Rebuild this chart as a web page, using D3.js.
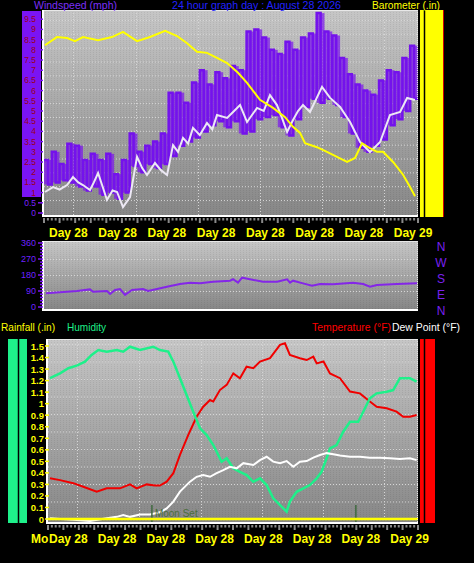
<!DOCTYPE html>
<html><head><meta charset="utf-8">
<script src="https://cdn.jsdelivr.net/npm/d3@7"></script>
<style>
body{margin:0;background:#000;}
svg{display:block;font-family:"Liberation Sans",Arial,sans-serif;}
</style>
</head><body>
<svg id="c" width="474" height="563"></svg>
<script>
// ---------------- DATA ----------------
// Top panel: windspeed (mph) – gust range per half hour bin
const gustHi = [2.6,3.0,2.4,3.4,3.3,2.6,2.9,2.6,2.9,1.9, 2.6,3.9,3.0,3.3,3.5,3.9,5.9,5.9,5.4,6.4,
                7.0,6.3,6.9,6.6,7.2,7.0,8.9,9.0,8.6,8.0, 7.8,8.4,8.0,8.6,8.8,9.8,8.9,8.7,7.6,6.8,
                6.3,6.0,5.8,6.5,7.0,6.9,7.6,8.2];
const gustLo = [1.4,1.5,1.6,1.5,1.3,1.1,1.3,0.9,1.0,0.7, 1.0,2.3,2.0,2.4,2.2,2.4,2.8,3.3,3.5,3.7,
                4.0,4.3,4.5,4.2,4.5,3.9,4.0,4.6,4.7,4.8, 4.2,3.8,4.6,5.2,5.6,5.4,5.6,5.3,4.7,3.9,
                3.2,3.0,3.3,3.6,4.3,4.6,5.0,5.6];
// average windspeed
const avgHours = [0.06,0.58,1.0,1.48,1.86,2.2,2.5,2.95,3.2,3.47,3.8,4.04,4.4,4.69,5.07,5.52,5.97,6.3,6.61,7.12,
                  7.5,7.9,8.28,8.6,8.92,9.25,9.56,10.0,10.46,10.8,11.1,11.75,12.2,12.58,13.03,13.67,14.1,14.5,14.95,15.3,
                  15.6,15.98,16.3,16.62,17.07,17.84,18.36,19.0,19.64,20.28,20.92,21.57,22.2,22.85,23.3,23.8];
const avgSpeed = [1.03,1.27,1.15,1.37,1.76,1.5,1.37,1.13,1.5,1.96,1.2,0.64,1.1,1.03,0.29,0.78,2.75,2.2,1.86,2.45,
                  2.1,1.86,3.33,3.0,3.68,3.4,4.17,3.82,4.41,4.1,4.8,4.66,5.0,5.29,4.46,5.15,5.0,5.78,5.29,4.6,
                  3.97,4.56,5.0,5.29,4.95,6.18,5.64,5.2,4.46,3.48,2.99,3.48,4.8,4.95,5.64,5.54];
// barometer (in)
const baroHours = [0.06,0.83,1.48,1.99,2.5,3.47,4.36,5.07,5.97,6.8,7.77,8.54,9.18,9.82,10.46,11.1,11.75,12.45,13.03,13.86,
                   14.7,15.47,15.98,16.43,16.75,17.52,18.16,18.8,19.45,19.96,20.41,20.92,21.37,21.76,22.4,23.04,23.49,23.81];
const baroVals = [30.029,30.045,30.043,30.037,30.045,30.039,30.045,30.055,30.037,30.045,30.057,30.047,30.033,30.016,30.014,30.004,29.994,29.975,29.955,29.922,
                  29.906,29.888,29.869,29.857,29.837,29.829,29.820,29.810,29.800,29.808,29.837,29.827,29.820,29.820,29.800,29.775,29.751,29.733];
// Middle panel: wind direction (degrees)
const dirHours = [0.13,1.03,2.12,2.95,3.15,4.04,4.24,4.56,4.88,5.2,5.65,6.35,6.68,7.25,7.89,8.73,9.37,10.01,10.85,11.94,
                  12.13,12.45,12.71,13.22,14.06,14.96,15.6,15.79,15.98,16.62,17.2,17.72,18.55,19.83,20.48,20.92,21.37,22.66,23.94];
const dirVals = [77,83,90,99,86,90,73,96,101,68,96,101,90,101,114,129,137,133,142,148,
                 156,137,165,156,142,142,156,137,148,133,120,129,128,137,129,114,124,129,133];
// Bottom panel
const humHours = [0.13,0.78,1.32,1.86,2.40,2.83,3.26,3.81,4.46,4.88,5.32,5.97,6.83,7.26,7.80,8.13,8.56,8.99,9.42,9.86,
                  10.29,10.72,10.94,11.26,11.59,12.02,12.45,12.88,13.32,13.75,14.18,14.61,15.05,15.48,15.69,16.13,16.56,16.99,17.43,17.75,
                  18.07,18.29,18.72,19.15,19.59,20.12,20.45,20.88,21.32,21.97,22.39,22.83,23.48,23.91];
const humVals = [79.0,81.7,84.5,85.9,88.1,91.8,94.5,93.6,94.5,93.6,96.3,94.5,96.3,94.5,93.6,88.1,79.0,69.8,60.6,51.5,
                 47.8,42.3,38.6,33.1,35.0,29.5,27.6,25.8,22.1,24.0,20.3,13.0,9.3,5.7,11.2,16.6,18.5,20.3,24.0,27.6,
                 35.0,40.5,42.3,49.6,55.1,55.1,60.6,68.0,70.7,71.6,72.5,79.0,79.0,77.1];
const tempHours = [0.13,0.78,1.64,2.29,3.16,3.81,4.67,5.32,5.75,6.40,6.94,7.26,7.70,8.13,8.56,9.10,9.64,10.07,10.51,10.72,
                   11.15,11.59,12.02,12.45,12.88,13.32,13.75,14.40,15.05,15.37,15.69,16.34,16.78,17.21,17.43,17.87,18.29,18.94,19.59,20.23,
                   20.88,21.32,21.97,22.61,23.04,23.48,23.91];
const tempVals = [54.4,53.8,52.8,51.6,50.0,51.1,51.1,52.4,51.1,52.4,52.0,52.0,53.3,56.1,62.1,68.7,74.7,78.0,80.2,79.7,
                  83.5,85.2,89.0,87.4,91.2,90.7,92.9,94.0,98.4,98.9,95.1,94.0,93.4,94.5,92.3,92.9,89.0,87.4,83.0,82.4,
                  79.7,78.0,77.5,76.4,74.7,74.7,75.3];
const dewHours = [0.13,1.64,2.72,3.81,4.46,4.88,5.32,5.97,6.61,7.26,7.70,8.13,8.56,9.21,9.64,10.07,10.51,10.94,11.37,11.80,
                  12.24,12.67,13.32,13.75,14.18,14.61,15.05,15.48,15.91,16.34,16.78,17.21,17.64,18.07,18.51,18.94,19.59,20.23,20.88,21.53,
                  22.18,22.83,23.48,23.91];
const dewVals = [41.2,40.7,40.3,41.2,41.7,42.3,41.7,42.5,42.5,43.2,44.5,46.7,50.0,53.3,54.9,55.5,54.9,56.1,57.1,58.2,
                 57.7,59.4,58.8,60.4,61.5,59.9,59.4,60.1,58.2,59.9,60.1,61.2,62.1,62.7,62.3,61.9,61.5,61.5,61.2,61.2,
                 61.0,60.8,61.0,60.4];
const rainHours = [0, 24];
const rainVals = [0, 0];
const eventHours = [6.74, 19.97];
const eventLabels = ["Moon Set", ""];
// axis labels
const windTicks = d3.range(0, 9.51, 0.5);
const dirTicks = [0, 90, 180, 270, 360];
const compass = ["N", "W", "S", "E", "N"];
const compassDeg = [360, 270, 180, 90, 0];
const rainTicks = d3.range(0, 16).map(k => k / 10);
const gridHours = [1.88, 5.9, 9.9, 13.86, 17.83, 21.8];
const dayLabelHours = [0, 3, 6, 9, 12, 15, 18, 21];
const dayLabels = ["Day 28", "Day 28", "Day 28", "Day 28", "Day 28", "Day 28", "Day 28", "Day 29"];

// ---------------- SCALES ----------------
const xTop = d3.scaleLinear().domain([0, 24]).range([44, 418]);
const xBot = d3.scaleLinear().domain([0, 24]).range([48, 418]);
const windY = d3.scaleLinear().domain([0, 10]).range([213, 9]);
const baroY = d3.scaleLinear().domain([29.7, 30.1]).range([213, 9]);
const dirY = d3.scaleLinear().domain([0, 360]).range([307, 243]);
const humY = d3.scaleLinear().domain([0, 100]).range([522, 340]);
const tempY = d3.scaleLinear().domain([40, 100]).range([522, 340]);
const rainY = d3.scaleLinear().domain([0, 1.5]).range([519, 346]);

const svg = d3.select('#c');
svg.append('rect').attr('width', 474).attr('height', 563).attr('fill', '#000');
const defs = svg.append('defs');
const grad = defs.append('linearGradient').attr('id', 'bg').attr('x1', 0).attr('y1', 0).attr('x2', 0).attr('y2', 1);
grad.append('stop').attr('offset', '0%').attr('stop-color', '#c6c6c6');
grad.append('stop').attr('offset', '100%').attr('stop-color', '#878787');
const pat = defs.append('pattern').attr('id', 'dith').attr('width', 3).attr('height', 2).attr('patternUnits', 'userSpaceOnUse');
pat.append('rect').attr('x', 0).attr('y', 0).attr('width', 1).attr('height', 1).attr('fill', '#000').attr('opacity', 0.07);

function panel(L, T, R, B, hLines, vHours, xs) {
  svg.append('rect').attr('x', L).attr('y', T).attr('width', R - L).attr('height', B - T).attr('fill', 'url(#bg)');
  svg.append('rect').attr('x', L).attr('y', T).attr('width', R - L).attr('height', B - T).attr('fill', 'url(#dith)');
  const gg = svg.append('g').attr('stroke', '#d6d6d6').attr('stroke-width', 1).attr('stroke-dasharray', '1,2');
  hLines.forEach(y => gg.append('line').attr('x1', L).attr('x2', R).attr('y1', y + 0.5).attr('y2', y + 0.5));
  vHours.forEach(h => gg.append('line').attr('x1', Math.round(xs(h)) + 0.5).attr('x2', Math.round(xs(h)) + 0.5).attr('y1', T).attr('y2', B));
}
function frame(L, T, R, B) {
  svg.append('line').attr('x1', L - 1).attr('x2', L - 1).attr('y1', T).attr('y2', B + 2).attr('stroke', '#fff').attr('stroke-width', 2);
  svg.append('line').attr('x1', L - 2).attr('x2', R).attr('y1', B + 1).attr('y2', B + 1).attr('stroke', '#fff').attr('stroke-width', 2);
  svg.append('line').attr('x1', L).attr('x2', R).attr('y1', T + 0.5).attr('y2', T + 0.5).attr('stroke', '#e8e8e8').attr('stroke-width', 1);
  svg.append('line').attr('x1', R - 0.5).attr('x2', R - 0.5).attr('y1', T).attr('y2', B).attr('stroke', '#e8e8e8').attr('stroke-width', 1).attr('stroke-dasharray', '1,1');
}
function bottomTicks(xs, y) {
  const g = svg.append('g').attr('stroke', '#8a8a8a').attr('stroke-width', 2);
  d3.range(0, 24.01, 0.25).forEach(h => {
    const long = Math.abs(h - Math.round(h)) < 1e-6;
    g.append('line').attr('x1', xs(h)).attr('x2', xs(h)).attr('y1', y).attr('y2', y + (long ? 5 : 2.5));
  });
}

// ---------------- TOP PANEL ----------------
panel(44, 10, 418, 215, d3.range(0, 14).map(k => 20 + k * 13.85), gridHours, xTop);
// gust bins
svg.append('g').selectAll('rect').data(gustHi).join('rect')
  .attr('x', (d, i) => xTop(i * 0.5))
  .attr('width', (d, i) => xTop((i + 1) * 0.5) - xTop(i * 0.5))
  .attr('y', d => windY(d))
  .attr('height', (d, i) => windY(gustLo[i]) - windY(d))
  .attr('fill', '#7a14ee').attr('opacity', 0.7);
// jagged gust trace: alternate high and low in each bin
const zig = [];
gustHi.forEach((v, i) => { zig.push([i * 0.5, v]); zig.push([i * 0.5 + 0.25, gustLo[i]]); });
zig.push([24, gustLo[gustLo.length - 1]]);
const gustStep = d3.line().curve(d3.curveStepAfter).x(d => xTop(d[0])).y(d => windY(d[1]));
svg.append('path').datum(zig).attr('d', gustStep)
  .attr('fill', 'none').attr('stroke', '#7412ec').attr('stroke-width', 2.5);
const avgLine = d3.line().x((d, i) => xTop(avgHours[i])).y(d => windY(d));
svg.append('path').datum(avgSpeed).attr('d', avgLine).attr('fill', 'none').attr('stroke', '#ece8f4').attr('stroke-width', 2);
const baroLine = d3.line().x((d, i) => xTop(baroHours[i])).y(d => baroY(d));
svg.append('path').datum(baroVals).attr('d', baroLine).attr('fill', 'none').attr('stroke', '#ffff00').attr('stroke-width', 2);
frame(44, 10, 418, 215);
bottomTicks(xTop, 218);

// left windspeed axis
svg.append('rect').attr('x', 22).attr('y', 11).attr('width', 19).attr('height', 186).attr('fill', '#7a14f4');
const wt = svg.append('g');
windTicks.forEach(v => {
  wt.append('line').attr('x1', 38).attr('x2', 43).attr('y1', windY(v)).attr('y2', windY(v)).attr('stroke', '#7a14f4').attr('stroke-width', 1.5);
  wt.append('text').attr('x', 36).attr('y', windY(v) + 3).attr('text-anchor', 'end')
    .attr('font-size', 8.5).attr('fill', v <= 0.5 ? '#7a20ff' : '#9a0020').text(v);
});
// right barometer axis
svg.append('rect').attr('x', 420).attr('y', 10).attr('width', 23).attr('height', 207).attr('fill', '#ffff00');
svg.append('line').attr('x1', 424.5).attr('x2', 424.5).attr('y1', 10).attr('y2', 217).attr('stroke', '#000').attr('stroke-width', 1.5);
svg.append('line').attr('x1', 443.5).attr('x2', 443.5).attr('y1', 10).attr('y2', 217).attr('stroke', '#d00000').attr('stroke-width', 1);

// titles
function title(t, x, y, w, c) {
  svg.append('text').attr('x', x).attr('y', y).attr('font-size', 11).attr('fill', c)
    .attr('textLength', w).attr('lengthAdjust', 'spacingAndGlyphs').text(t);
}
title('Windspeed (mph)', 34, 9, 83, '#7b2ff7');
title('24 hour graph day : August 28 2026', 172, 9, 169, '#2222ff');
title('Barometer (.in)', 372, 9, 68, '#ffff00');

// x labels (top)
const xl = svg.append('g').attr('font-size', 12).attr('font-weight', 'bold').attr('fill', '#ffff00');
dayLabels.forEach((t, i) => xl.append('text').attr('x', xTop(dayLabelHours[i]) + 5 + i * 2.5).attr('y', 237).text(t));

// ---------------- MIDDLE PANEL ----------------
panel(44, 241, 418, 309, [90, 180, 270].map(v => dirY(v)), [], xTop);
const dirLine = d3.line().x((d, i) => xTop(dirHours[i])).y(d => dirY(d));
svg.append('path').datum(dirVals).attr('d', dirLine).attr('fill', 'none').attr('stroke', '#8426e8').attr('stroke-width', 2);
frame(44, 241, 418, 309);
const dt = svg.append('g');
d3.range(0, 361, 18).forEach(v => {
  dt.append('line').attr('x1', v % 90 === 0 ? 38 : 40).attr('x2', 43).attr('y1', dirY(v)).attr('y2', dirY(v))
    .attr('stroke', '#7a14f4').attr('stroke-width', 1.5);
});
dirTicks.forEach(v => dt.append('text').attr('x', 36).attr('y', dirY(v) + 3).attr('text-anchor', 'end')
  .attr('font-size', 9).attr('fill', '#6e22ff').text(v));
compass.forEach((c, i) => svg.append('text').attr('x', 441).attr('y', dirY(compassDeg[i]) + 7.5)
  .attr('text-anchor', 'middle').attr('font-size', 12).attr('fill', '#7a20f0').text(c));

// ---------------- BOTTOM PANEL ----------------
panel(48, 339, 418, 522, d3.range(0, 10).map(k => 344 + k * 17.5), gridHours, xBot);
const tempLine = d3.line().x((d, i) => xBot(tempHours[i])).y(d => tempY(d));
const dewLine = d3.line().x((d, i) => xBot(dewHours[i])).y(d => tempY(d));
const humLine = d3.line().x((d, i) => xBot(humHours[i])).y(d => humY(d));
const rainLine = d3.line().x((d, i) => xBot(rainHours[i])).y(d => rainY(d));
svg.append('path').datum(tempVals).attr('d', tempLine).attr('fill', 'none').attr('stroke', '#f00000').attr('stroke-width', 2);
svg.append('path').datum(humVals).attr('d', humLine).attr('fill', 'none').attr('stroke', '#1ef08a').attr('stroke-width', 2.5);
svg.append('path').datum(dewVals).attr('d', dewLine).attr('fill', 'none').attr('stroke', '#ffffff').attr('stroke-width', 2);
eventHours.forEach((h, i) => {
  svg.append('line').attr('x1', xBot(h)).attr('x2', xBot(h)).attr('y1', 505).attr('y2', 522).attr('stroke', '#3f6a3f').attr('stroke-width', 1.5);
  if (eventLabels[i]) svg.append('text').attr('x', xBot(h) + 3).attr('y', 517).attr('font-size', 10).attr('fill', '#4a6e3a').text(eventLabels[i]);
});
svg.append('path').datum(rainVals).attr('d', rainLine).attr('fill', 'none').attr('stroke', '#ffff00').attr('stroke-width', 2.5);
frame(48, 339, 418, 522);
bottomTicks(xBot, 525);

// left: humidity bar + rainfall axis
svg.append('rect').attr('x', 8).attr('y', 339).attr('width', 19).attr('height', 184).attr('fill', '#1ef08a');
svg.append('line').attr('x1', 18.5).attr('x2', 18.5).attr('y1', 339).attr('y2', 523).attr('stroke', '#000').attr('stroke-width', 1.5);
const rt = svg.append('g');
rainTicks.forEach(v => {
  rt.append('line').attr('x1', 45).attr('x2', 49).attr('y1', rainY(v)).attr('y2', rainY(v)).attr('stroke', '#ffff00').attr('stroke-width', 1.5);
  rt.append('text').attr('x', 44).attr('y', rainY(v) + 3.5).attr('text-anchor', 'end').attr('font-size', 9.5)
    .attr('font-weight', 'bold').attr('fill', '#ffff00').text(v);
});
// right temperature bar
svg.append('rect').attr('x', 420).attr('y', 339).attr('width', 15).attr('height', 184).attr('fill', '#ff0000');
svg.append('line').attr('x1', 424.5).attr('x2', 424.5).attr('y1', 339).attr('y2', 523).attr('stroke', '#000').attr('stroke-width', 1.5);

title('Rainfall (.in)', 1, 331, 54, '#ffff00');
title('Humidity', 67, 331, 39, '#1ef08a');
title('Temperature (°F)', 312, 331, 79, '#ff0000');
title('Dew Point (°F)', 392, 331, 68, '#ffffff');

const xl2 = svg.append('g').attr('font-size', 12).attr('font-weight', 'bold').attr('fill', '#ffff00');
xl2.append('text').attr('x', 31).attr('y', 543).text('Mo');
dayLabels.forEach((t, i) => xl2.append('text').attr('x', xBot(dayLabelHours[i]) + 1 + i * 2.5).attr('y', 543).text(t));
</script>
</body></html>
